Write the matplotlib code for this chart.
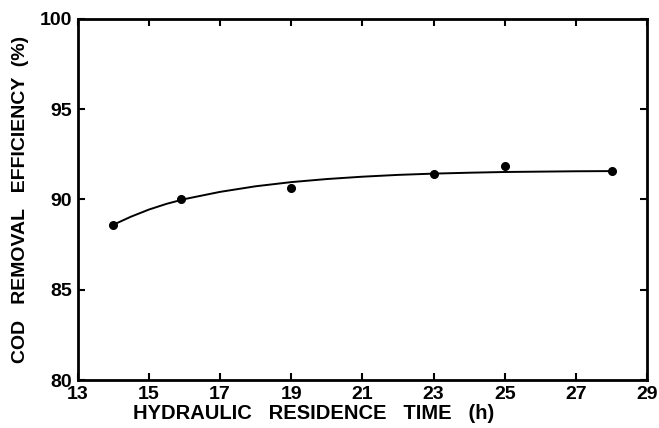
import matplotlib.pyplot as plt
import numpy as np

# measured points
hrt = [14.0, 15.9, 19.0, 23.0, 25.0, 28.0]
cod_eff = [88.6, 90.05, 90.65, 91.4, 91.85, 91.6]

# smooth curve
curve_x = [14, 14.5, 15, 15.5, 16, 17, 18, 19, 20, 21, 22, 23, 24, 25, 26, 27, 28]
curve_y = [88.6, 89.05, 89.44, 89.76, 90.02, 90.42, 90.73, 90.96, 91.13, 91.26, 91.36, 91.43, 91.48, 91.52, 91.54, 91.56, 91.57]

xticks = [13, 15, 17, 19, 21, 23, 25, 27, 29]
yticks = [80, 85, 90, 95, 100]

plt.rcParams['font.family'] = ['Liberation Sans', 'DejaVu Sans']
plt.rcParams['font.weight'] = 'bold'

fig = plt.figure(figsize=(6.59, 4.28), dpi=100)
ax = fig.add_axes([0.118, 0.112, 0.864, 0.844])

ax.plot(curve_x, curve_y, color='black', lw=1.4)
ax.plot(hrt, cod_eff, 'o', color='black', ms=5.5)

ax.set_xlim(13, 29)
ax.set_ylim(80, 100)
ax.set_xticks(xticks)
ax.set_yticks(yticks)
ax.tick_params(direction='in', length=5, width=1.5, labelsize=14,
               top=True, right=True, pad=4)
for s in ax.spines.values():
    s.set_linewidth(2)

ax.set_xlabel('HYDRAULIC   RESIDENCE   TIME   (h)', fontsize=14.5,
              fontweight='bold')
ax.xaxis.set_label_coords(0.415, -0.065)
ax.set_ylabel('COD   REMOVAL   EFFICIENCY  (%)', fontsize=14,
              fontweight='bold')
ax.yaxis.set_label_coords(-0.085, 0.5)

fig.savefig('out.png', dpi=100)
